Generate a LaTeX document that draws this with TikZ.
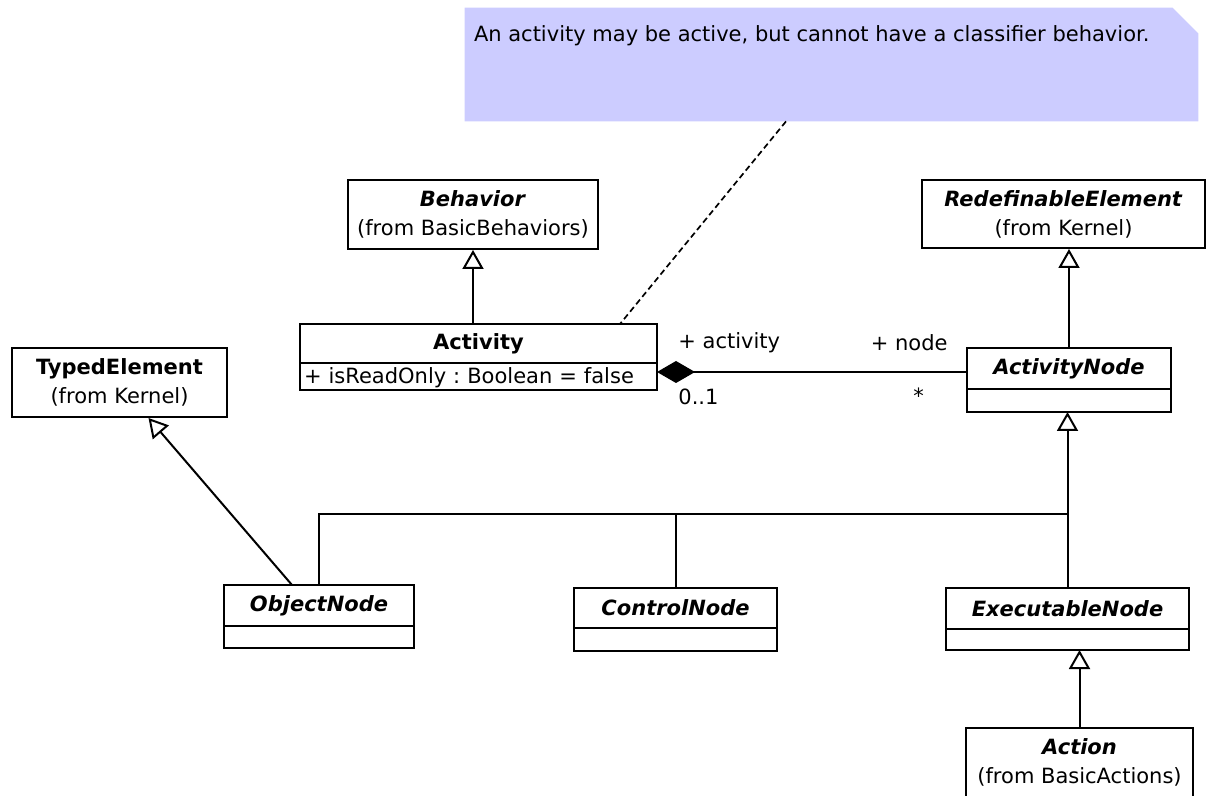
\documentclass[tikz,border=0pt]{standalone}
\usepackage{fontspec}
\setmainfont{DejaVu Sans}
\usepackage{tikz}
\usetikzlibrary{shapes, arrows.meta, positioning, calc, shadows}
\definecolor{notefill}{RGB}{204,204,255}
\frenchspacing

\begin{document}
\begin{tikzpicture}[x=0.5pt, y=-0.5pt, >=Latex,
        font=\fontsize{10.5}{14.5}\selectfont,
        boxshadow/.style={drop shadow={shadow xshift=0.7pt, shadow yshift=-0.7pt, fill=black, opacity=0.35}},
        classbox/.style={rectangle, draw, line width=1pt, fill=white, text centered, inner sep=0pt, outer sep=0pt, minimum height=20.5pt, boxshadow},
        compart/.style={rectangle, draw, line width=1pt, fill=white, inner xsep=2pt, inner ysep=0pt, outer sep=0pt, minimum height=11.5pt, boxshadow},
        pkgbox/.style={rectangle, draw, line width=1pt, fill=white, align=center, inner sep=0pt, minimum height=34.5pt, boxshadow},
        inherit/.style={-{Triangle[open, length=9.5pt, width=10.5pt]}, line width=1pt},
        compose/.style={-{Diamond[length=19pt, width=11pt]}, line width=1pt},
        assoc/.style={line width=1pt},
        anchorline/.style={line width=0.85pt, dash pattern=on 3pt off 1.8pt},
        role/.style={inner sep=0pt, anchor=west}]

    \useasboundingbox (0,0) rectangle (1211,796);

    % Comment note
    \node (note) [minimum width=366.5pt, minimum height=56.5pt, inner sep=0pt] at (831.5,64.5) {};
    \fill [notefill] (note.south west) -- (note.north west) -- ([xshift=-13pt]note.north east) -- ([yshift=-13pt]note.north east) -- (note.south east) -- cycle;
    \node (note_text) [anchor=west, inner sep=0pt] at ([xshift=4.5pt, yshift=-14pt]note.north west) {An activity may be active, but cannot have a classifier behavior.};

    % Imported classes
    \node (behavior) [pkgbox, minimum width=125pt] at (473,214.5) {\textbf{\textit{Behavior}}\\(from BasicBehaviors)};
    \node (redef) [pkgbox, minimum width=141.5pt, minimum height=34pt] at (1063.5,214) {\textbf{\textit{RedefinableElement}}\\(from Kernel)};
    \node (typed) [pkgbox, minimum width=107.5pt] at (119.5,382.5) {\textbf{TypedElement}\\(from Kernel)};
    \node (action) [pkgbox, minimum width=113.5pt] at (1079.5,762.5) {\textbf{\textit{Action}}\\(from BasicActions)};

    % Classes with compartments
    \node (activity) [classbox, minimum width=178.5pt, minimum height=19.5pt] at (478.5,343.5) {\textbf{Activity}};
    \node (activity_attr) [compart, below=0pt of activity, text width=174.5pt, align=left, text height=10.5pt, text depth=3pt] {+ isReadOnly : Boolean = false};

    \node (act_node) [classbox, minimum width=102pt] at (1069,368.5) {\textbf{\textit{ActivityNode}}};
    \node (act_node_ops) [compart, below=0pt of act_node, minimum width=102pt] {};

    \node (obj_node) [classbox, minimum width=95pt] at (319,605.5) {\textbf{\textit{ObjectNode}}};
    \node (obj_node_ops) [compart, below=0pt of obj_node, minimum width=95pt, minimum height=11pt] {};

    \node (ctrl_node) [classbox, minimum width=101.5pt, minimum height=20pt] at (675.5,608) {\textbf{\textit{ControlNode}}};
    \node (ctrl_node_ops) [compart, below=0pt of ctrl_node, minimum width=101.5pt] {};

    \node (exec_node) [classbox, minimum width=121.5pt] at (1067.5,608.5) {\textbf{\textit{ExecutableNode}}};
    \node (exec_node_ops) [compart, below=0pt of exec_node, minimum width=121.5pt, minimum height=10.5pt] {};

    % Generalizations
    \draw [inherit] (activity.north -| behavior.south) -- (behavior.south);
    \draw [inherit] (act_node.north) -- (act_node.north |- redef.south);
    \draw [inherit] ([xshift=-13.5pt]obj_node.north) -- ([xshift=14.5pt]typed.south);
    \draw [inherit] (action.north) -- (action.north |- exec_node_ops.south);
    \draw [inherit] (exec_node.north) -- (exec_node.north |- act_node_ops.south);

    % Shared line to ActivityNode
    \coordinate (bus) at ($(exec_node.north)+(0,37pt)$);
    \draw [assoc] (obj_node.north) |- (bus);
    \draw [assoc] (ctrl_node.north) -- (ctrl_node.north |- bus);

    % Composition
    \coordinate (comp_end) at ([yshift=-1.75pt]act_node.west);
    \draw [compose] (comp_end) -- (comp_end -| activity_attr.east);
    \node (role_activity) [role] at (678,343) {+ activity};
    \node (mult_activity) [role] at (678,397) {0..1};
    \node (role_node) [role, anchor=east] at (948,343) {+ node};
    \node (mult_node) [role] at (913,396) {*};

    % Note anchor
    \draw [anchorline] ([xshift=-22.75pt]note.south) -- ([xshift=70.75pt]activity.north);

\end{tikzpicture}
\end{document}
